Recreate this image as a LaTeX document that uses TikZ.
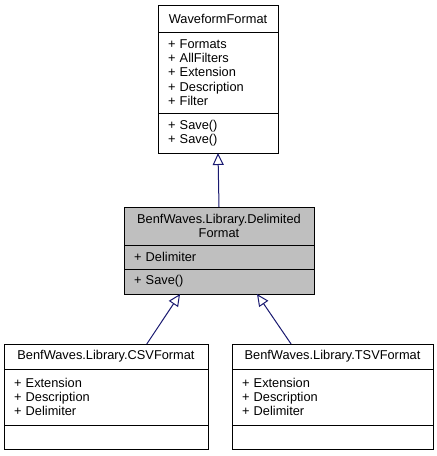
\documentclass[tikz,border=0pt]{standalone}
\usepackage{fontspec}
\setmainfont{Liberation Sans}
\usepackage{xcolor}
\usetikzlibrary{arrows.meta,positioning,calc}

\definecolor{edgeblue}{HTML}{191970}
\definecolor{focusgray}{HTML}{BFBFBF}

\begin{document}
\begin{tikzpicture}[
  x=1pt, y=-1pt,
  font=\fontsize{12.8}{14.3}\selectfont,
  part/.style={draw=black,line width=1pt,fill=white,anchor=north west,inner xsep=10pt,inner ysep=0pt,outer sep=0pt,align=left},
  head/.style={part,align=center},
  focus/.style={fill=focusgray},
  inherit/.style={draw=edgeblue,line width=1pt,-{Triangle[open,length=12pt,width=11pt,line width=1pt]}}
]
\useasboundingbox (0,0) rectangle (437,456);

% base class
\node[head,text width=100pt,minimum height=27pt] (wft) at (158,5) {WaveformFormat};
\node[part,text width=100pt,minimum height=81pt] (wfa) at (wft.south west) {+ Formats\\+ AllFilters\\+ Extension\\+ Description\\+ Filter};
\node[part,text width=100pt,minimum height=40pt] (wfo) at (wfa.south west) {+ Save()\\+ Save()};

% delimited format
\node[head,focus,text width=170pt,minimum height=38pt] (dft) at (124,207) {BenfWaves.Library.Delimited\\Format};
\node[part,focus,text width=170pt,minimum height=24pt] (dfa) at (dft.south west) {+ Delimiter};
\node[part,focus,text width=170pt,minimum height=25pt] (dfo) at (dfa.south west) {+ Save()};

% csv
\node[head,text width=184pt,minimum height=25pt] (csvt) at (4,344) {BenfWaves.Library.CSVFormat};
\node[part,text width=184pt,minimum height=56pt] (csva) at (csvt.south west) {+ Extension\\+ Description\\+ Delimiter};
\node[part,text width=184pt,minimum height=24pt] (csvo) at (csva.south west) {};

% tsv
\node[head,text width=181pt,minimum height=25pt] (tsvt) at (232,344) {BenfWaves.Library.TSVFormat};
\node[part,text width=181pt,minimum height=56pt] (tsva) at (tsvt.south west) {+ Extension\\+ Description\\+ Delimiter};
\node[part,text width=181pt,minimum height=24pt] (tsvo) at (tsva.south west) {};

\draw[inherit] (dft.north) -- (wfo.south);
\draw[inherit] ($(csvt.north west)!0.7!(csvt.north east)$) -- ($(dfo.south west)!0.295!(dfo.south east)$);
\draw[inherit] ($(tsvt.north west)!0.294!(tsvt.north east)$) -- ($(dfo.south west)!0.7!(dfo.south east)$);
\end{tikzpicture}
\end{document}
